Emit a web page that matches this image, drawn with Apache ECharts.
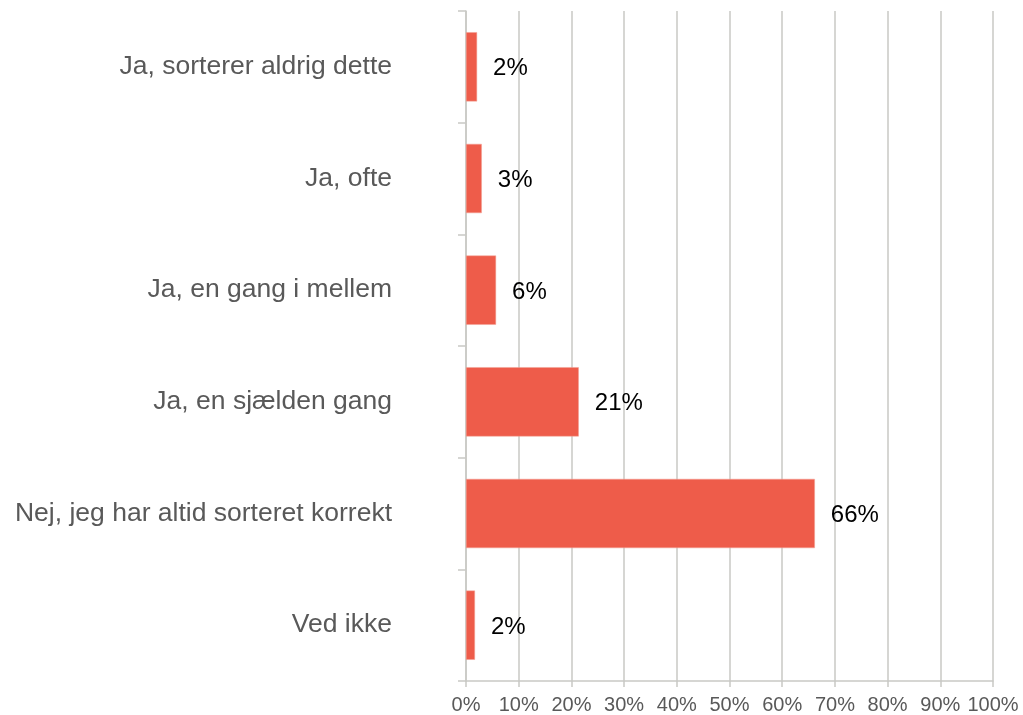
<!DOCTYPE html>
<html>
<head>
<meta charset="utf-8" />
<script src="https://cdn.jsdelivr.net/npm/echarts@6/dist/echarts.min.js"></script>
<style>
  html, body { margin: 0; padding: 0; background: #fff; }
  #chart { width: 1023px; height: 715px; }
</style>
</head>
<body>
<div id="chart"></div>
<script>
const categories = [
  "Ja, sorterer aldrig dette",
  "Ja, ofte",
  "Ja, en gang i mellem",
  "Ja, en sjælden gang",
  "Nej, jeg har altid sorteret korrekt",
  "Ved ikke",
];
const shares = [2.1, 3.0, 5.7, 21.4, 66.2, 1.7];
const xTicks = [0, 10, 20, 30, 40, 50, 60, 70, 80, 90, 100];

const gridColor = "#c9c9c5";
const chart = echarts.init(document.getElementById("chart"));

chart.setOption({
  animation: false,
  textStyle: { fontFamily: "Liberation Sans, Arial, sans-serif" },
  grid: { left: 466, right: 30, top: 11, bottom: 34 },
  xAxis: {
    type: "value",
    min: xTicks[0],
    max: xTicks[xTicks.length - 1],
    interval: 10,
    axisLine: { show: true, lineStyle: { color: gridColor, width: 1.5 } },
    axisTick: { show: true, length: 6, lineStyle: { color: gridColor, width: 1.5 } },
    splitLine: { show: true, lineStyle: { color: gridColor, width: 1.5 } },
    axisLabel: {
      color: "#595959",
      fontSize: 20,
      margin: 14,
      formatter: (v) => v + "%",
    },
  },
  yAxis: {
    type: "category",
    data: categories,
    inverse: true,
    axisLine: { show: true, lineStyle: { color: gridColor, width: 1.5 } },
    axisTick: { show: true, length: 8, lineStyle: { color: gridColor, width: 1.5 } },
    axisLabel: { color: "#595959", fontSize: 26.5, margin: 74, padding: [4, 0, 0, 0] },
  },
  series: [
    {
      type: "bar",
      data: shares,
      barWidth: "62%",
      itemStyle: { color: "#ee5c4a", borderColor: "#f3a397", borderWidth: 0.5 },
      label: {
        show: true,
        position: "right",
        distance: 16,
        offset: [0, 2],
        color: "#000",
        fontSize: 24,
        formatter: (p) => Math.round(p.value) + "%",
      },
    },
  ],
});
</script>
</body>
</html>
